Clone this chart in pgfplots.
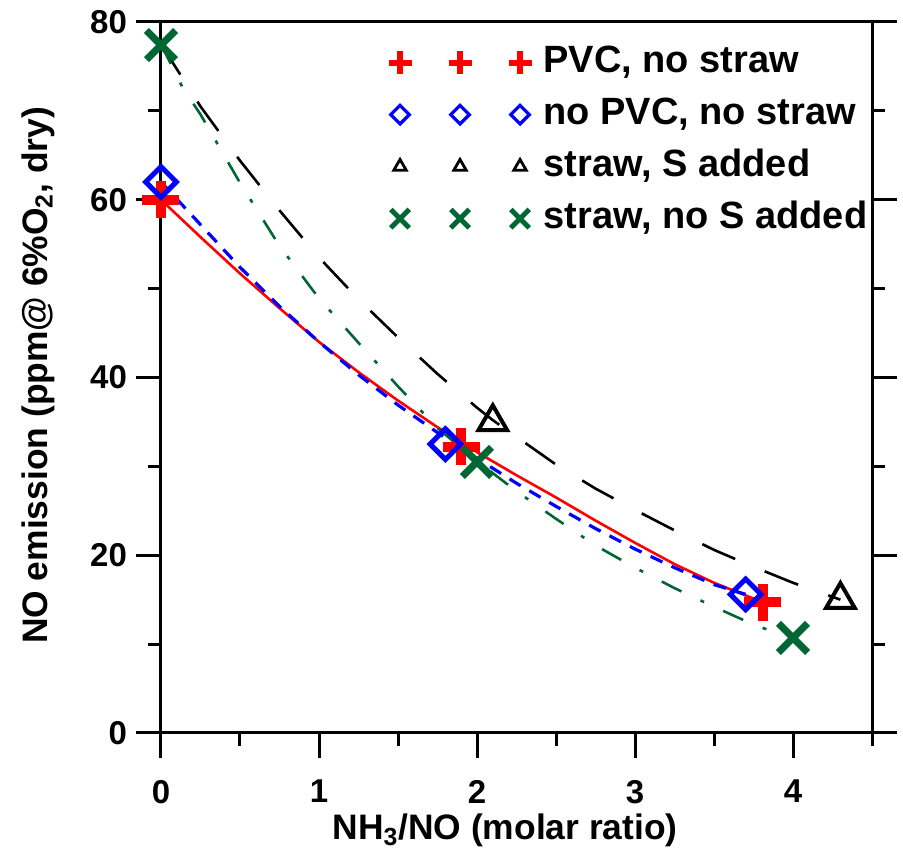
\documentclass[border=0pt]{standalone}
\usepackage{fontspec}
\setmainfont{Liberation Sans}
\usepackage{pgfplots}
\pgfplotsset{compat=1.18}
\definecolor{dgreen}{RGB}{0,102,51}

\begin{document}
\begin{tikzpicture}
\begin{axis}[
  scale only axis, width=355.5pt, height=355.5pt,
  xmin=0, xmax=4.5, ymin=0, ymax=80,
  xtick={0,1,2,3,4}, minor xtick={0.5,1.5,2.5,3.5,4.5},
  ytick={0,20,40,60,80}, minor ytick={10,30,50,70},
  xtick pos=bottom, ytick pos=both, yticklabel pos=left,
  tick align=outside,
  major tick length=12.5pt, minor tick length=6.5pt,
  every tick/.style={black, line width=1.5pt},
  axis line style={line width=1.5pt},
  /pgf/number format/assume math mode=true,
  tick label style={font=\fontsize{16.5pt}{18pt}\selectfont\bfseries},
  xticklabel style={yshift=-7.5pt},
  yticklabel style={xshift=-1pt},
  xlabel={NH\textsubscript{3}/NO (molar ratio)},
  ylabel={NO emission (ppm@ 6\%O\textsubscript{2}, dry)},
  label style={font=\fontsize{17.7pt}{20pt}\selectfont\bfseries},
  xlabel style={at={(axis description cs:0.484,0)}, anchor=base, yshift=-53.5pt},
  ylabel style={at={(axis description cs:-0.173,0.503)}, anchor=center},
  legend style={draw=none, fill=none, inner sep=0pt, outer sep=0pt,
    at={(axis cs:1.44,77.9)}, anchor=north west,
    font=\fontsize{19pt}{21pt}\selectfont\bfseries,
    nodes={inner sep=2pt, text height=14pt, text depth=4pt},
    row sep=4pt, column sep=4pt},
  legend cell align=left,
  legend image code/.code={\draw[#1, only marks] plot coordinates {(0pt,0pt) (30pt,0pt) (60pt,0pt)};},
]
% markers
\addplot[forget plot, only marks, mark=+, red, mark size=9.25pt, mark options={line width=5pt}]
  coordinates {(0,60) (1.9,32.2) (3.81,14.7)};
\addplot[forget plot, only marks, mark=square, blue, mark size=5.4pt, mark options={line width=2.5pt, rotate=45}]
  coordinates {(0,62) (1.8,32.5) (3.7,15.6)};
\addplot[forget plot, only marks, mark=triangle, black, mark size=8.3pt, mark options={line width=2pt}]
  coordinates {(2.1,35.0) (4.3,15.0)};
\addplot[forget plot, only marks, mark=x, dgreen, mark size=10.3pt, mark options={line width=3.5pt}]
  coordinates {(0,77.4) (2,30.5) (4,10.7)};
% fitted curves
\addplot[forget plot, no markers, red, line width=1.3pt] coordinates {
 (0,60) (0.25,55.8) (0.5,51.7) (0.75,47.8) (1,44.0) (1.25,40.6) (1.5,37.4) (1.75,34.4)
 (2,31.6) (2.25,29.0) (2.5,26.5) (2.75,23.9) (3,21.4) (3.25,19.0) (3.5,16.9) (3.81,14.7)};
\addplot[forget plot, no markers, blue, line width=1.6pt, dash pattern=on 6.5pt off 5pt] coordinates {
 (0,62) (0.25,57.2) (0.5,52.4) (0.75,48.0) (1,44.0) (1.25,40.3) (1.5,36.9) (1.75,33.8)
 (2,30.9) (2.25,28.1) (2.5,25.5) (2.75,23.0) (3,20.7) (3.25,18.6) (3.5,16.7) (3.7,15.6)};
\addplot[forget plot, no markers, black, line width=1.3pt, dash pattern=on 18pt off 16pt] coordinates {
 (0,77.5) (0.25,70.5) (0.5,64.4) (0.75,58.8) (1,53.5) (1.25,48.8) (1.5,44.5) (1.75,40.4)
 (2,36.6) (2.1,35.2) (2.5,30.2) (2.75,27.5) (3,25.1) (3.25,22.8) (3.5,20.6) (3.75,18.7) (4,16.9) (4.3,15.0)};
\addplot[forget plot, no markers, dgreen, line width=1.3pt, dash pattern=on 11pt off 10.5pt on 2pt off 10.5pt] coordinates {
 (0,77.5) (0.14,72.5) (0.25,69.6) (0.5,61.9) (0.75,54.8) (1,48.9) (1.25,43.9) (1.5,39.0)
 (1.75,34.3) (2,30.6) (2.25,27.2) (2.5,24.1) (2.75,21.1) (3,18.6) (3.25,16.3) (3.5,14.2) (3.75,12.2) (3.92,11.1)};
% legend
\addlegendimage{red, mark=+, mark size=5.75pt, mark options={line width=3pt}}
\addlegendentry{PVC, no straw}
\addlegendimage{blue, mark=square, mark size=3.3pt, mark options={line width=1.6pt, rotate=45}}
\addlegendentry{no PVC, no straw}
\addlegendimage{black, mark=triangle, mark size=3.6pt, mark options={line width=1.4pt}}
\addlegendentry{straw, S added}
\addlegendimage{dgreen, mark=x, mark size=6.5pt, mark options={line width=2.5pt}}
\addlegendentry{straw, no S added}
\end{axis}
\path ([shift={(-80.5pt,-58pt)}]current axis.south west) rectangle ([shift={(15.5pt,11pt)}]current axis.north east);
\end{tikzpicture}
\end{document}
